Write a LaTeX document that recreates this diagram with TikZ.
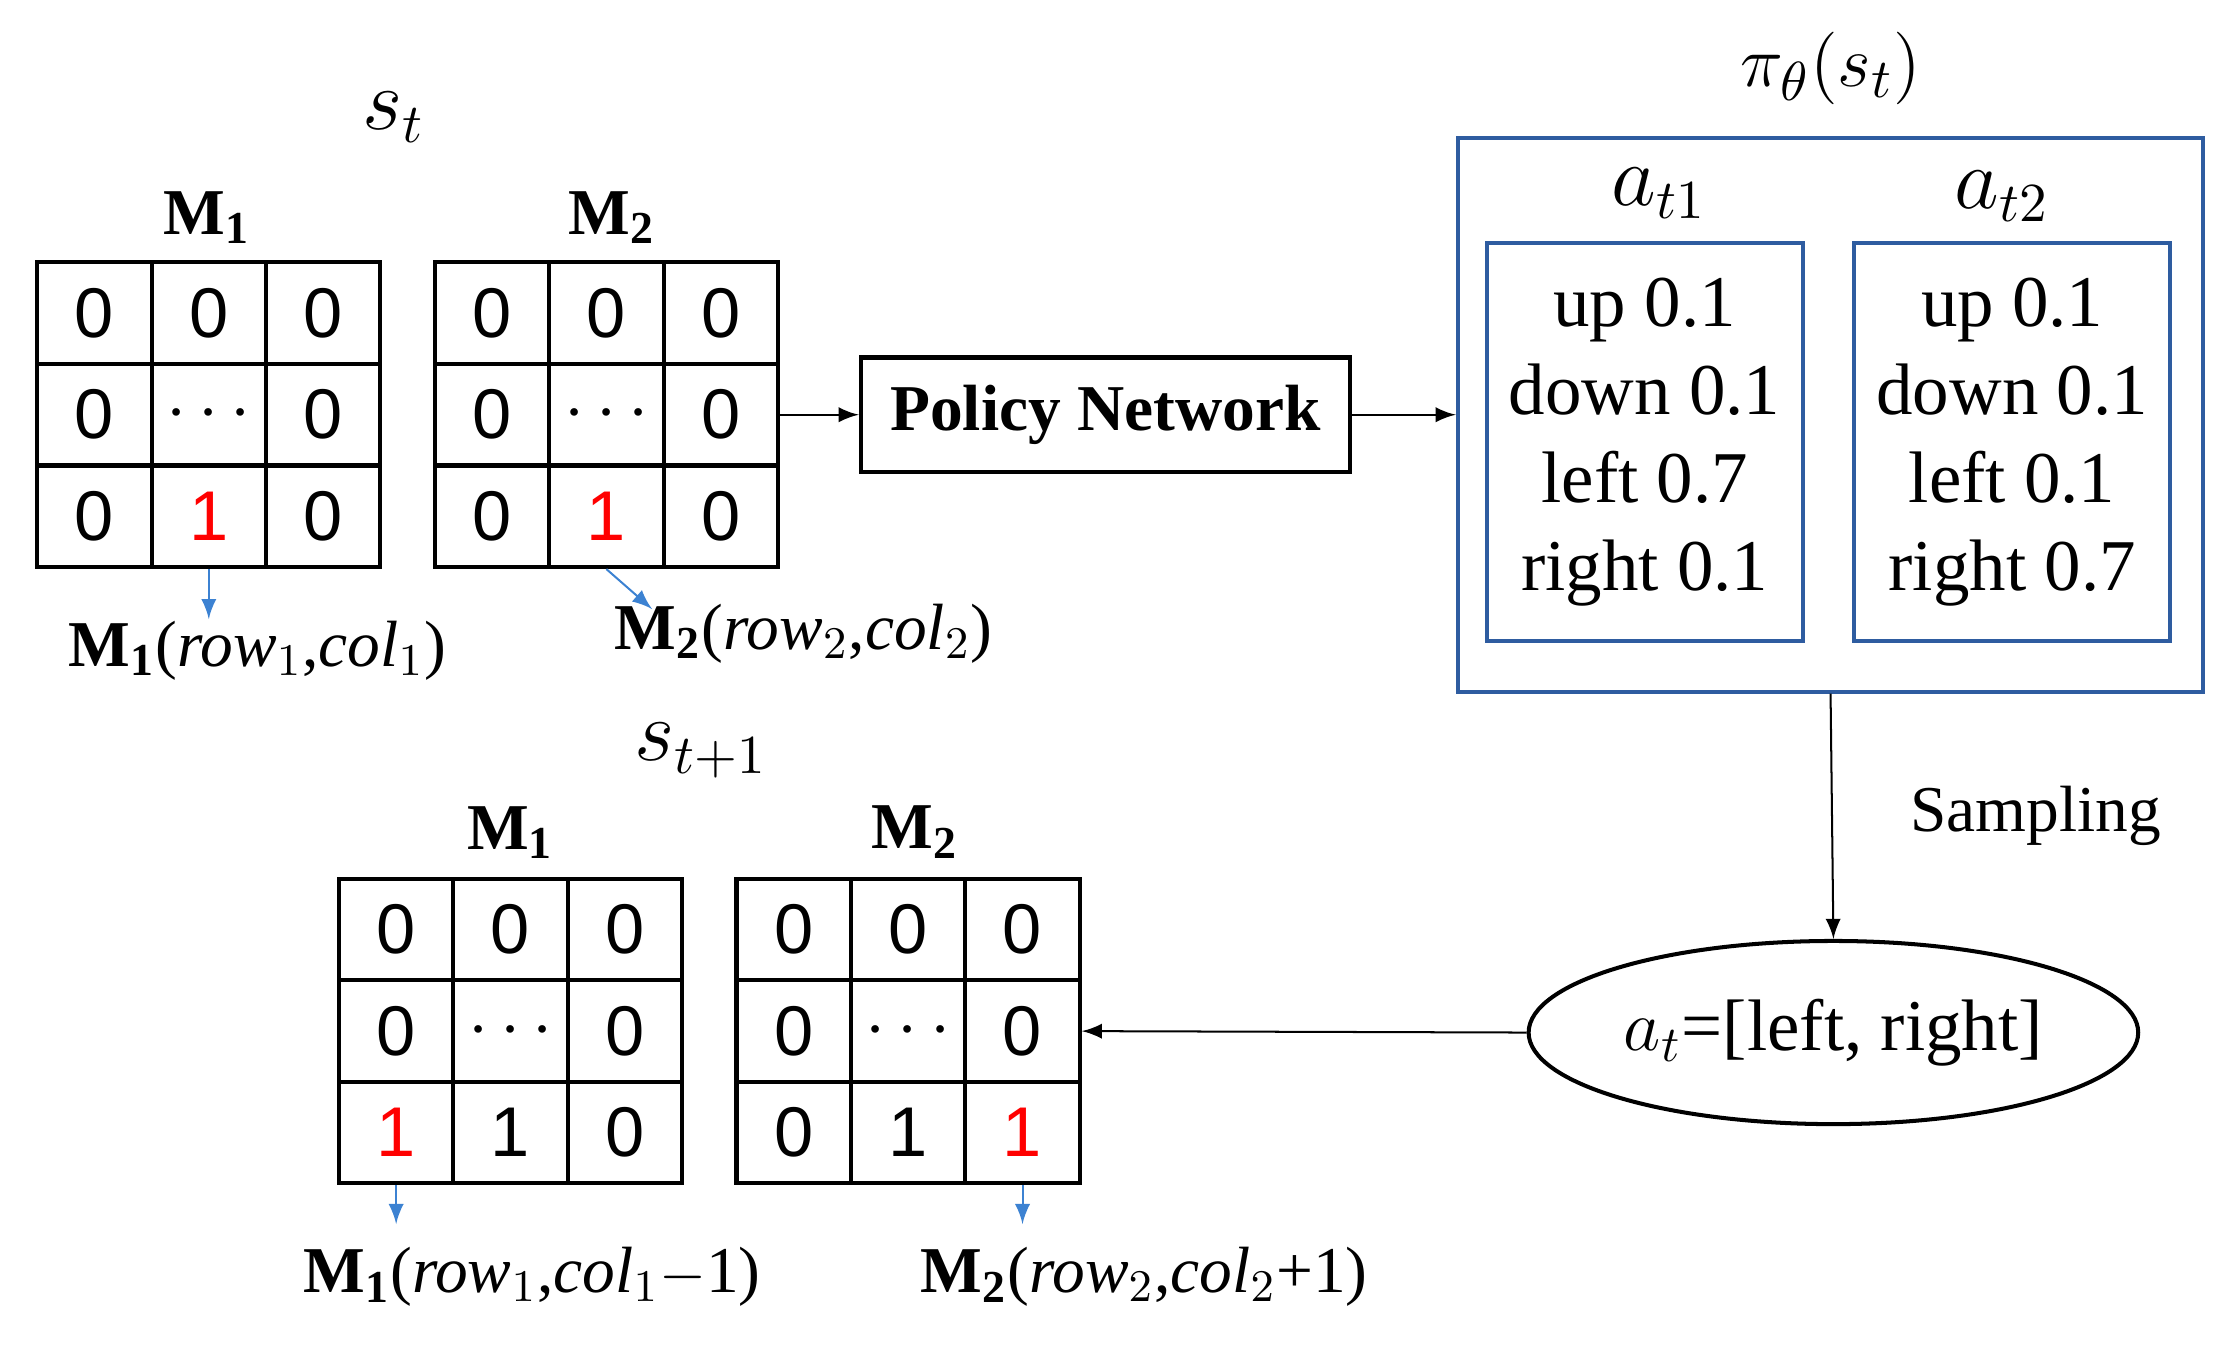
\documentclass[tikz,border=0pt]{standalone}
\usepackage{fontspec}
\setmainfont{Liberation Serif}
\setsansfont{Liberation Sans}
\usetikzlibrary{positioning,shapes.geometric,calc}
\definecolor{boxblue}{RGB}{46,92,160}
\definecolor{arrblue}{RGB}{60,130,210}
\tikzset{
  cell/.style={draw,thick,minimum width=0.8cm,minimum height=0.71cm,inner sep=0pt},
  lab/.style={font=\fontsize{13}{15}\selectfont},
  prob/.style={draw=boxblue,thick,minimum width=2.21cm,minimum height=2.78cm,align=center,font=\fontsize{14.5}{17.5}\selectfont},
  blue arrow/.style={->,arrblue,>=latex},
  flow/.style={->,>=latex}
}
% one 3x3 grid: #1 name, #2 centre, #3..#5 bottom row entries
\newcommand{\grid}[5]{%
  \foreach \r/\y in {1/-71,2/0,3/71}{
    \foreach \c/\x in {1/-80,2/0,3/80}{
      \node[cell] (#1-\r\c) at ($(#2)+(\x,\y)$) {};
    }
  }
  \node at (#1-11) {0};\node at (#1-12) {0};\node at (#1-13) {0};
  \node at (#1-21) {0};\node at (#1-22) {\textbf{$\cdots$}};\node at (#1-23) {0};
  \node at (#1-31) {#3};\node at (#1-32) {#4};\node at (#1-33) {#5};
}
\begin{document}
\begin{tikzpicture}[x=0.01cm,y=-0.01cm]
\useasboundingbox (0,0) rectangle (1560,940);
\tikzset{every node/.append style={font=\fontsize{14}{16}\sffamily\selectfont}}
% state s_t
\coordinate (g1c) at (146,290);
\coordinate (g2c) at (424,290);
\coordinate (g3c) at (357,721);
\coordinate (g4c) at (635,721);
\grid{ga}{g1c}{0}{\textcolor{red}{1}}{0}
\grid{gb}{g2c}{0}{\textcolor{red}{1}}{0}
\grid{gc}{g3c}{\textcolor{red}{1}}{1}{0}
\grid{gd}{g4c}{0}{1}{\textcolor{red}{1}}
\node[font=\fontsize{16}{18}\selectfont] (st) at (275,82) {$s_t$};
\node[lab] (m1) at (145,152) {$\mathbf{M_1}$};
\node[lab] (m2) at (428,152) {$\mathbf{M_2}$};
\node[font=\fontsize{16}{18}\selectfont] (st1) at (490,525) {$s_{t+1}$};
\node[lab] (m3) at (357,582) {$\mathbf{M_1}$};
\node[lab] (m4) at (640,582) {$\mathbf{M_2}$};
% position labels
\node[lab] (p1) at (180,455) {$\mathbf{M_1}$(\textit{row}$_1$,\textit{col}$_1$)};
\node[lab] (p2) at (562,443) {$\mathbf{M_2}$(\textit{row}$_2$,\textit{col}$_2$)};
\node[lab] (p3) at (372,893) {$\mathbf{M_1}$(\textit{row}$_1$,\textit{col}$_1$$-$1)};
\node[lab] (p4) at (800,893) {$\mathbf{M_2}$(\textit{row}$_2$,\textit{col}$_2$+1)};
\draw[blue arrow] (ga-32.south) -- ++(0,35);
\draw[blue arrow] (gb-32.south) -- ++(32,28);
\draw[blue arrow] (gc-31.south) -- ++(0,27);
\draw[blue arrow] (gd-33.south) -- ++(0,27);
% policy network
\node[draw,thick,minimum width=3.42cm,minimum height=0.8cm,font=\fontsize{13}{15}\selectfont\bfseries] (pn) at (773,290) {Policy Network};
\draw[flow] (gb-23.east) -- (pn.west);
% action distribution
\node[draw=boxblue,thick,minimum width=5.21cm,minimum height=3.87cm] (pi) at (1280,290) {};
\node[font=\fontsize{15}{17}\selectfont] (pil) at (1280,48) {$\pi_\theta(s_t)$};
\draw[flow] (pn.east) -- (pi.west);
\node[prob] (d1) at (1150,309) {up 0.1\\down 0.1\\left 0.7\\right 0.1};
\node[prob] (d2) at (1407,309) {up 0.1\\down 0.1\\left 0.1\\right 0.7};
\node[font=\fontsize{16}{18}\selectfont] (a1) at (1160,135) {$a_{t1}$};
\node[font=\fontsize{16}{18}\selectfont] (a2) at (1400,137) {$a_{t2}$};
% sampled action
\node[draw,thick,ellipse,minimum width=4.26cm,minimum height=1.28cm,inner sep=0pt,font=\fontsize{14.5}{17}\selectfont] (at) at (1282,722) {$a_t$=[left, right]};
\draw[flow] (pi.south) -- node[right=12pt,font=\fontsize{13}{15}\selectfont] {Sampling} (at.north);
\draw[flow] (at.west) -- (gd-23.east);
\end{tikzpicture}
\end{document}
